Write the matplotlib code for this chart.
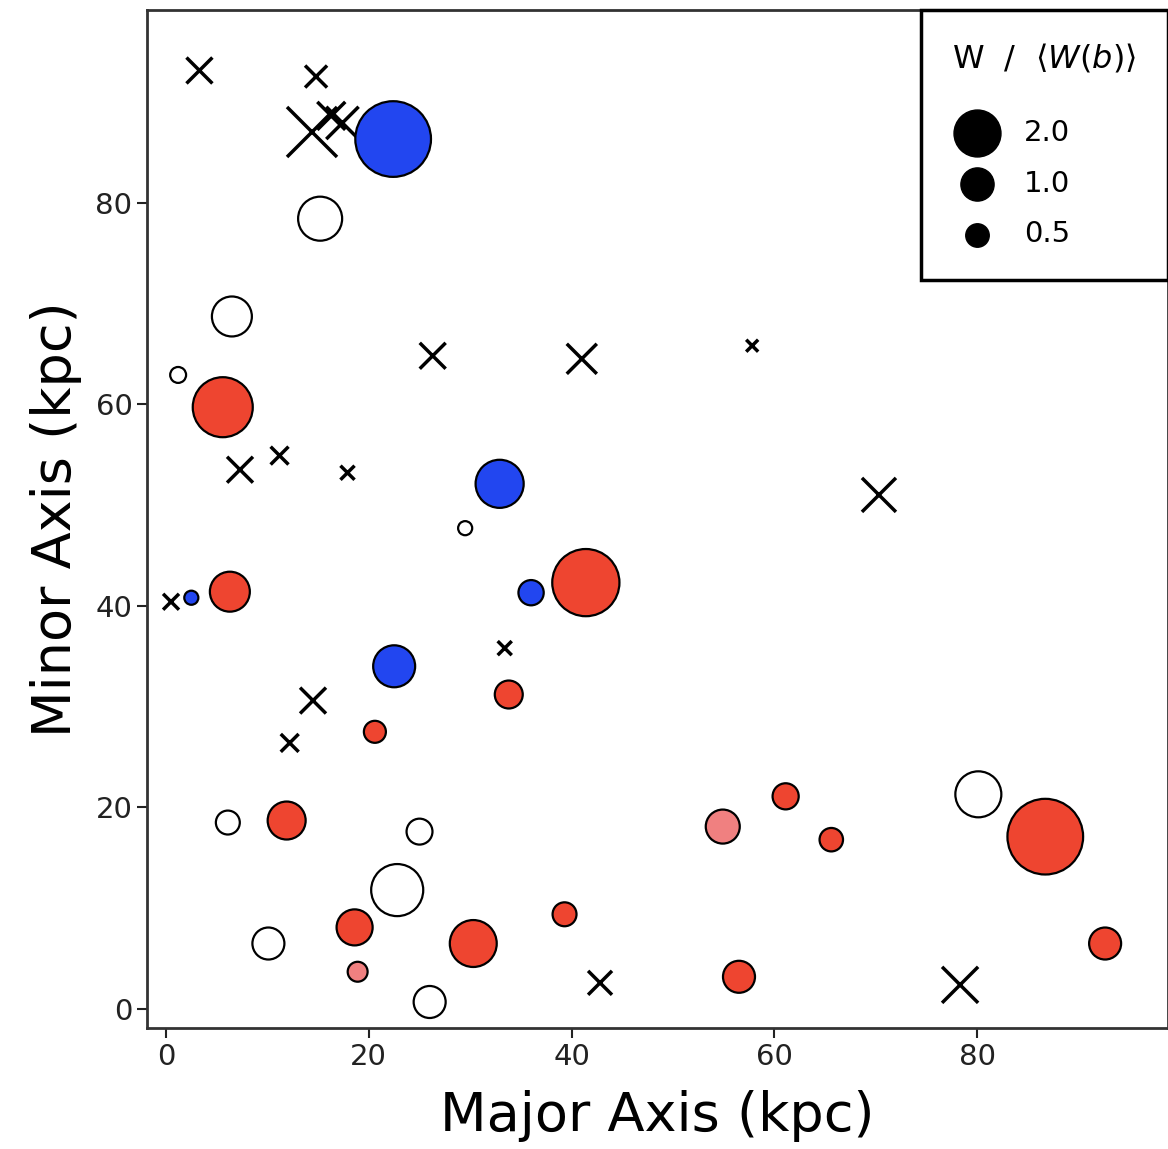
import numpy as np
from matplotlib import pyplot as plt

# absorbers (circles): position along major / minor axis, W / <W(b)>, class
circ_major = [22.4, 15.2, 6.5, 1.2, 5.6, 32.9, 29.5, 41.4, 36.0, 6.3, 2.5,
              22.5, 33.8, 20.6, 6.1, 11.9, 25.0, 22.8, 18.6, 10.1, 30.3,
              18.9, 26.0, 39.3, 56.5, 54.9, 61.1, 65.6, 80.1, 86.7, 92.6]
circ_minor = [86.3, 78.4, 68.7, 62.9, 59.7, 52.1, 47.7, 42.3, 41.3, 41.4, 40.8,
              34.0, 31.2, 27.5, 18.5, 18.7, 17.6, 11.8, 8.1, 6.5, 6.5,
              3.7, 0.7, 9.4, 3.2, 18.1, 21.1, 16.8, 21.3, 17.1, 6.5]
circ_w = [5.2, 1.76, 1.45, 0.23, 3.27, 2.1, 0.18, 4.1, 0.58, 1.45, 0.18,
          1.6, 0.71, 0.44, 0.52, 1.31, 0.61, 2.46, 1.18, 0.93, 2.0,
          0.36, 0.93, 0.52, 0.93, 1.05, 0.62, 0.5, 1.92, 5.2, 0.93]
circ_kind = ["blue", "white", "white", "white", "red", "blue", "white", "red",
             "blue", "red", "blue", "blue", "red", "red", "white", "red",
             "white", "white", "red", "white", "red", "pink", "white", "red",
             "red", "pink", "red", "red", "white", "red", "red"]

# non-detections (crosses)
up_major = [3.3, 14.8, 14.4, 16.3, 17.4, 26.3, 41.0, 57.8, 7.3, 11.2, 17.9,
            70.3, 0.5, 33.4, 14.5, 12.2, 42.8, 78.3]
up_minor = [93.1, 92.5, 87.0, 88.6, 87.9, 64.8, 64.5, 65.8, 53.5, 54.9, 53.2,
            51.0, 40.4, 35.8, 30.6, 26.4, 2.6, 2.4]
up_w = [0.61, 0.44, 2.27, 0.71, 0.95, 0.61, 0.82, 0.13, 0.61, 0.29, 0.18,
        1.05, 0.23, 0.18, 0.61, 0.29, 0.52, 1.18]

legend_w = [2.0, 1.0, 0.5]

colors = {"red": "#ee4530", "blue": "#2246f0", "white": "white",
          "pink": "#f08080"}
scale = 571.0

fig = plt.figure(figsize=(11.68, 11.49), dpi=100)
ax = fig.add_axes([147 / 1168, 1 - 1028 / 1149, 1 - 147 / 1168, (1028 - 10) / 1149])

ax.scatter(up_major, up_minor, s=np.array(up_w) * scale, marker="x",
           c="black", linewidths=2.5, zorder=2)
ax.scatter(circ_major, circ_minor, s=np.array(circ_w) * scale,
           c=[colors[k] for k in circ_kind], edgecolors="black",
           linewidths=1.6, zorder=3)

handles = [ax.scatter([], [], s=w * scale, c="black") for w in legend_w]
leg = ax.legend(handles, [f"{w:.1f}" for w in legend_w],
                title=r"W  /  $\langle W(b)\rangle$", loc="upper right",
                borderaxespad=0, fontsize=21, title_fontsize=23,
                fancybox=False, framealpha=1, edgecolor="black",
                labelspacing=0.78, handletextpad=0.75, borderpad=1.08,
                handlelength=1.7, scatterpoints=1, alignment="left")
leg.get_frame().set_linewidth(2.5)
leg._legend_box.sep = 32

ax.set_xlim(-1.87, 98.8)
ax.set_ylim(-1.88, 99.1)
ax.set_xticks([0, 20, 40, 60, 80])
ax.set_yticks([0, 20, 40, 60, 80])
ax.tick_params(labelsize=21, length=7, width=1.5, colors="#222222")
for side in ["left", "bottom", "top", "right"]:
    ax.spines[side].set_linewidth(2)
    ax.spines[side].set_color("#333333")

ax.set_xlabel("Major Axis (kpc)", fontsize=39, labelpad=14)
ax.set_ylabel("Minor Axis (kpc)", fontsize=39, labelpad=10)

fig.savefig("out.png", dpi=100)
